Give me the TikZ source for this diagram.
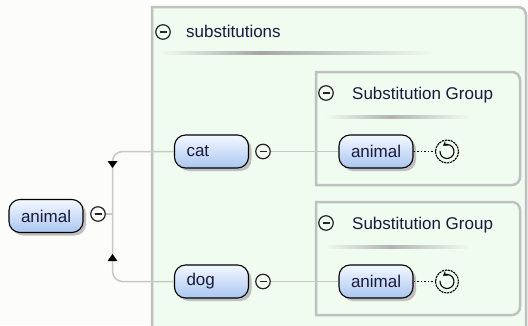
\documentclass[tikz,border=0pt]{standalone}
\usepackage{fontspec}
\setmainfont{Liberation Sans}
\usetikzlibrary{shadows,arrows.meta}
\definecolor{pagebg}{RGB}{252,252,250}
\definecolor{boxgreen}{RGB}{240,252,240}
\definecolor{framegray}{RGB}{192,192,192}
\definecolor{linegray}{RGB}{200,200,200}
\definecolor{elemtop}{RGB}{244,248,255}
\definecolor{elembot}{RGB}{170,198,240}
\definecolor{textnavy}{RGB}{25,25,60}

\begin{document}
\begin{tikzpicture}[x=1pt, y=1pt, font=\fontsize{17}{19}\selectfont,
		elem/.style={rounded corners=11pt, draw=black, line width=1.1pt, top color=elemtop, bottom color=elembot,
			text width=50pt, align=left, inner xsep=12pt, minimum height=33pt, inner ysep=0pt, text=textnavy,
			drop shadow={shadow xshift=3pt, shadow yshift=-3pt, fill=black!25, opacity=1}},
		collapse/.style={circle, draw=black!85, line width=1.2pt, minimum size=14.5pt, inner sep=0pt,
			path picture={\draw[line width=1.2pt] ([xshift=-3.5pt]path picture bounding box.center) -- ([xshift=3.5pt]path picture bounding box.center);}},
		recur/.style={circle, draw=black, dash pattern=on 2.2pt off 0.8pt, line width=1.1pt, minimum size=23pt, inner sep=0pt,
			path picture={\draw[solid, line width=1.1pt, -{Stealth[length=4.5pt,width=5.5pt]}] ([shift={(175:7pt)}]path picture bounding box.center) arc[start angle=175, end angle=485, radius=7pt];}},
		title/.style={anchor=base west, inner sep=0pt, text=textnavy},
		frame/.style={draw=framegray, line width=2.5pt},
		conn/.style={draw=linegray, line width=1.5pt}]
		\useasboundingbox (0,0) rectangle (528,325);
		\clip (0,0) rectangle (528,325);
		\fill[pagebg] (0,0) rectangle (528,325);
		\draw[frame, fill=boxgreen] (152,-20) -- (152,318) -- (518,318) arc[start angle=90, end angle=0, radius=8] -- (526,-20);
		\node[collapse] (subsc) at (163,293) {};
		\node[title] (substitle) at (186,288) {substitutions};
		\shade[left color=boxgreen, right color=black!35] (160,271) rectangle (260,274);
		\shade[left color=black!35, right color=boxgreen] (260,271) rectangle (435,274);
		\draw[frame] (316,140) -- (316,253) -- (512,253) arc[start angle=90, end angle=0, radius=8] -- (520,148) arc[start angle=0, end angle=-90, radius=8] -- cycle;
		\node[collapse] (grpac) at (326,232) {};
		\node[title] (grpatitle) at (352,226) {Substitution Group};
		\shade[left color=boxgreen, right color=black!30] (325,206.5) rectangle (390,209.5);
		\shade[left color=black!30, right color=boxgreen] (390,206.5) rectangle (470,209.5);
		\draw[frame] (316,10) -- (316,123) -- (512,123) arc[start angle=90, end angle=0, radius=8] -- (520,18) arc[start angle=0, end angle=-90, radius=8] -- cycle;
		\node[collapse] (grpbc) at (326,102) {};
		\node[title] (grpbtitle) at (352,96) {Substitution Group};
		\shade[left color=boxgreen, right color=black!30] (325,76.5) rectangle (390,79.5);
		\shade[left color=black!30, right color=boxgreen] (390,76.5) rectangle (470,79.5);
		\node[elem] (animal) at (46,109) {animal};
		\node[collapse] (animalc) at (98,111) {};
		\node[elem] (cat) at (211.5,173.5) {cat};
		\node[collapse] (catc) at (263,173.5) {};
		\node[elem] (dog) at (211.5,43.5) {dog};
		\node[collapse] (dogc) at (263,43.5) {};
		\node[elem] (suba) at (376,173.5) {animal};
		\node[recur] (reca) at (447,173.5) {};
		\node[elem] (subb) at (376,43.5) {animal};
		\node[recur] (recb) at (447,43.5) {};
		\coordinate (fork) at (112.5,111);
		\draw[conn] (animalc.east) -- (fork);
		\draw[conn, rounded corners=10pt] (cat.west) -| (fork) |- (dog.west);
		\fill[black] (107.5,164) -- (117.5,164) -- (112.5,157) -- cycle;
		\fill[black] (107.5,64) -- (117.5,64) -- (112.5,71) -- cycle;
		\draw[conn] (catc.east) -- (suba.west);
		\draw[conn] (dogc.east) -- (subb.west);
		\draw[dotted, line width=1.5pt] (suba.east) -- (reca.west);
		\draw[dotted, line width=1.5pt] (subb.east) -- (recb.west);
	\end{tikzpicture}
\end{document}
